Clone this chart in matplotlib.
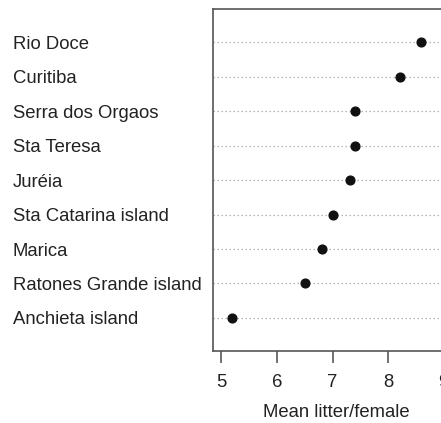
import matplotlib
matplotlib.use("Agg")
import matplotlib.pyplot as plt

sites = ["Rio Doce", "Curitiba", "Serra dos Orgaos", "Sta Teresa", "Juréia",
         "Sta Catarina island", "Marica", "Ratones Grande island", "Anchieta island"]
litter = [8.60, 8.21, 7.40, 7.40, 7.31, 7.00, 6.81, 6.50, 5.20]
xticks = [5, 6, 7, 8, 9]
xlabel = "Mean litter/female"

plt.rcParams['font.family'] = ['Liberation Sans', 'DejaVu Sans']

W, H = 441, 423
fig = plt.figure(figsize=(W / 100, H / 100), dpi=100)
x0, x1 = 4.845, 9.5
ppu = 55.6
left_px, top_px, bot_px = 212.7, 9.3, 351
ax = fig.add_axes([left_px / W, (H - bot_px) / H,
                   (x1 - x0) * ppu / W, (bot_px - top_px) / H])

fs = 13.3
n = len(sites)
ypos = list(range(n, 0, -1))
for y in ypos:
    ax.axhline(y, color="#b0b0b0", linestyle=(0, (1.2, 2.0)), linewidth=0.9, zorder=1)
ax.plot(litter, ypos, "o", color="#111111", markersize=6.3, zorder=3, linestyle="none")

ax.set_xlim(x0, x1)
ax.set_ylim(0.04, 9.96)
ax.set_xticks(xticks)
ax.set_xticklabels([str(t) for t in xticks], fontsize=fs, color="#222222")
ax.tick_params(axis="x", direction="out", length=8.5, width=1.3, color="#666666", pad=8)
ax.set_yticks(ypos)
ax.set_yticklabels(sites, fontsize=fs, color="#222222")
ax.tick_params(axis="y", length=0, pad=(left_px - 13) * 0.72)
for lab in ax.get_yticklabels():
    lab.set_horizontalalignment("left")
ax.set_xlabel(xlabel, fontsize=fs, color="#222222", labelpad=11)
ax.xaxis.set_label_coords((336.5 - left_px) / ((x1 - x0) * ppu), -0.155)
for s in ax.spines.values():
    s.set_color("#555555")
    s.set_linewidth(1.2)

fig.savefig("out.png", dpi=100)
